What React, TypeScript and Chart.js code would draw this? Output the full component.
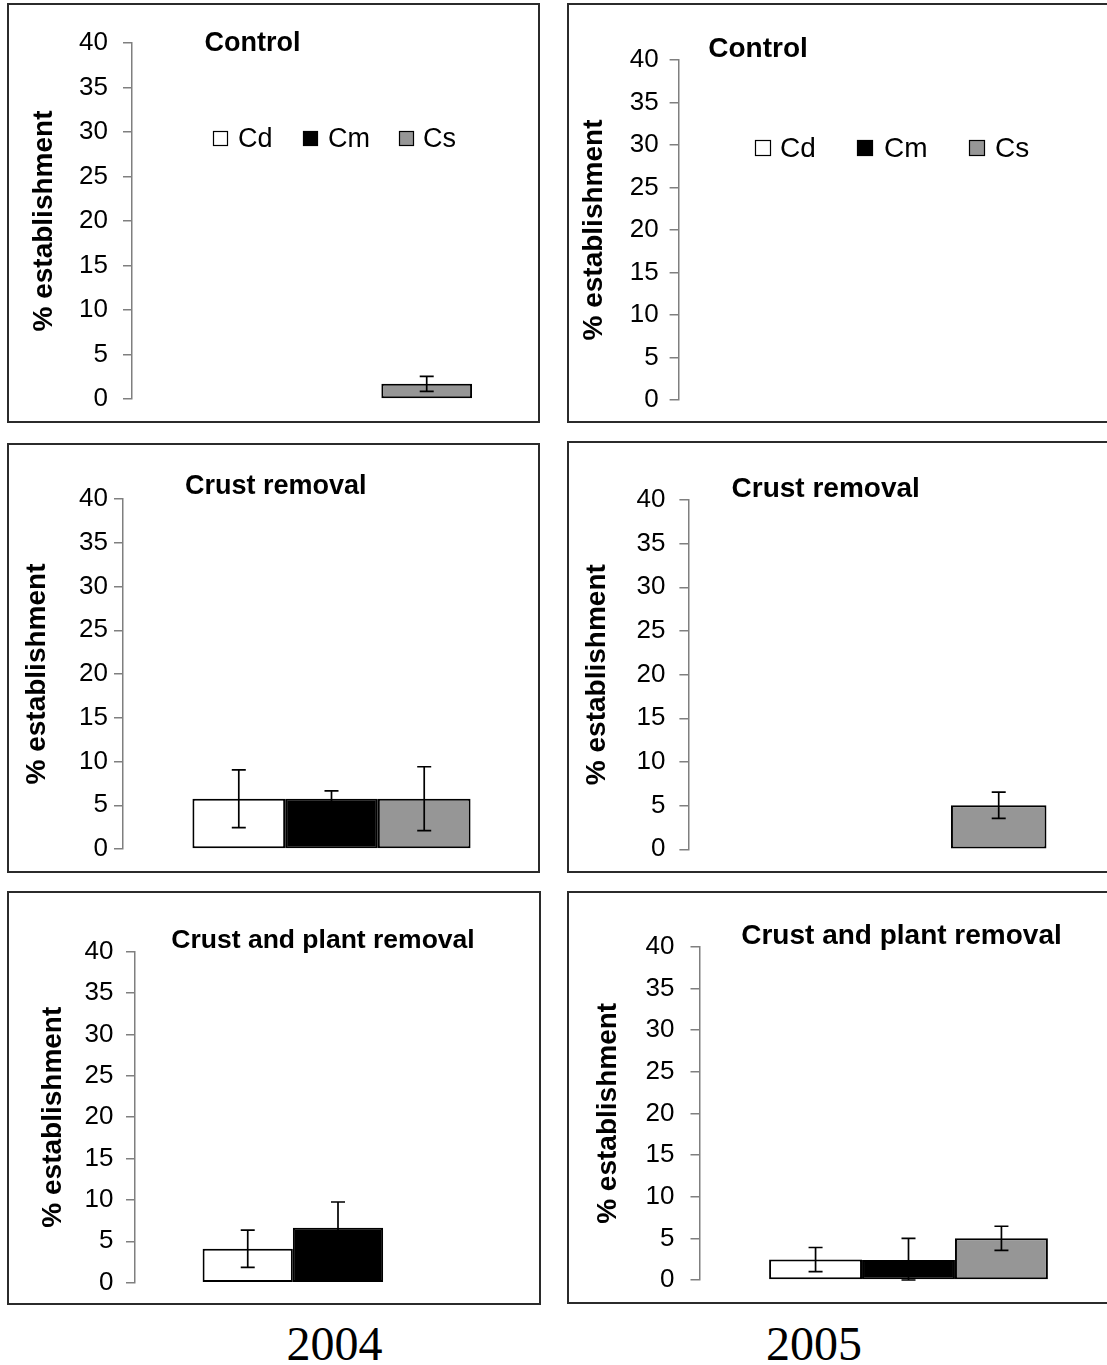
import React, { useEffect, useRef } from 'react';
import { Chart, registerables } from 'chart.js';

Chart.register(...registerables);

// ---------- data ----------
const SERIES = ['Cd', 'Cm', 'Cs'];
const YEARS = ['2004', '2005'];
const TREATMENTS = ['Control', 'Crust removal', 'Crust and plant removal'];
const Y_TITLE = '% establishment';
const Y_MIN = 0;
const Y_MAX = 40;
const Y_STEP = 5;

const CONTROL_2004 = [null, null, 1.7];
const CONTROL_2004_ERR = [0, 0, 0.85];
const CONTROL_2005 = [null, null, null];
const CONTROL_2005_ERR = [0, 0, 0];
const CRUST_2004 = [5.75, 5.75, 5.75];
const CRUST_2004_ERR = [3.3, 0.9, 3.65];
const CRUST_2005 = [null, null, 5.05];
const CRUST_2005_ERR = [0, 0, 1.5];
const PLANT_2004 = [4.1, 6.65, null];
const PLANT_2004_ERR = [2.25, 3.1, 0];
const PLANT_2005 = [2.45, 2.4, 5.0];
const PLANT_2005_ERR = [1.45, 2.6, 1.45];

// ---------- styles / layout ----------
const SERIES_COLORS = ['#ffffff', '#000000', '#969696'];
const SANS = '"Liberation Sans", Arial, Helvetica, sans-serif';
const SERIF = '"Liberation Serif", "Times New Roman", serif';
const AXIS_COLOR = '#7f7f7f';

type Legend = { boxX: number[]; boxY: number; size: number; textX: number[]; baseline: number; font: number };
type PanelLayout = {
  l: number; t: number; w: number; h: number;
  yAxisW: number; top: number; bottom: number; right: number;
  tickPad: number; yTitleC: number;
  titleX: number; titleY: number; titleSize: number;
  legend?: Legend;
};

const PANELS = [
  { title: TREATMENTS[0], values: CONTROL_2004, errors: CONTROL_2004_ERR,
    layout: { l: 7, t: 3, w: 533, h: 420, yAxisW: 125, top: 40, bottom: 396, right: 533, tickPad: 15, yTitleC: 37,
      titleX: 245.5, titleY: 48, titleSize: 27,
      legend: { boxX: [206, 296, 392], boxY: 128, size: 15, textX: [231, 321, 416], baseline: 144, font: 27 } } as PanelLayout },
  { title: TREATMENTS[0], values: CONTROL_2005, errors: CONTROL_2005_ERR,
    layout: { l: 567, t: 3, w: 553, h: 420, yAxisW: 111.6, top: 57, bottom: 397, right: 551, tickPad: 11, yTitleC: 27.5,
      titleX: 191, titleY: 54.3, titleSize: 28,
      legend: { boxX: [188, 290, 402], boxY: 137, size: 16, textX: [213, 317, 428], baseline: 153.5, font: 28 } } as PanelLayout },
  { title: TREATMENTS[1], values: CRUST_2004, errors: CRUST_2004_ERR,
    layout: { l: 7, t: 443, w: 533, h: 430, yAxisW: 116, top: 56, bottom: 406, right: 533, tickPad: 6, yTitleC: 30.5,
      titleX: 268.7, titleY: 51.3, titleSize: 27 } as PanelLayout },
  { title: TREATMENTS[1], values: CRUST_2005, errors: CRUST_2005_ERR,
    layout: { l: 567, t: 441, w: 553, h: 432, yAxisW: 121.4, top: 59, bottom: 408.3, right: 551, tickPad: 14, yTitleC: 30.6,
      titleX: 258.7, titleY: 56.3, titleSize: 28 } as PanelLayout },
  { title: TREATMENTS[2], values: PLANT_2004, errors: PLANT_2004_ERR,
    layout: { l: 7, t: 891, w: 534, h: 414, yAxisW: 128, top: 60.7, bottom: 391.7, right: 534, tickPad: 12.5, yTitleC: 45.9,
      titleX: 316, titleY: 57.3, titleSize: 26.5 } as PanelLayout },
  { title: TREATMENTS[2], values: PLANT_2005, errors: PLANT_2005_ERR,
    layout: { l: 567, t: 891, w: 553, h: 413, yAxisW: 132.5, top: 55.7, bottom: 389, right: 550.5, tickPad: 16, yTitleC: 41.5,
      titleX: 334.5, titleY: 53, titleSize: 28 } as PanelLayout },
];

const YEAR_LABELS = [
  { text: YEARS[0], cx: 334.5, top: 1320 },
  { text: YEARS[1], cx: 814, top: 1320 },
];

function makePlugins(title: string, errors: number[], layout: PanelLayout) {
  const errorBars = {
    id: 'errorBars',
    afterDatasetsDraw(chart: any) {
      const y = chart.scales.y;
      const ctx = chart.ctx;
      ctx.save();
      ctx.strokeStyle = '#000';
      ctx.lineWidth = 1.7;
      chart.data.datasets.forEach((ds: any, i: number) => {
        const meta = chart.getDatasetMeta(i);
        meta.data.forEach((el: any, j: number) => {
          const v = ds.data[j];
          const e = errors[i];
          if (v == null || !e) return;
          const x = el.x;
          const yt = y.getPixelForValue(v + e);
          const yb = y.getPixelForValue(Math.max(0, v - e));
          const cap = 7;
          ctx.beginPath();
          ctx.moveTo(x, yt); ctx.lineTo(x, yb);
          ctx.moveTo(x - cap, yt); ctx.lineTo(x + cap, yt);
          ctx.moveTo(x - cap, yb); ctx.lineTo(x + cap, yb);
          ctx.stroke();
        });
      });
      ctx.restore();
    },
  };
  const panelText = {
    id: 'panelText',
    afterDraw(chart: any) {
      const ctx = chart.ctx;
      const area = chart.chartArea;
      ctx.save();
      ctx.fillStyle = '#000';
      // panel title
      ctx.font = `bold ${layout.titleSize}px ${SANS}`;
      ctx.textAlign = 'center';
      ctx.textBaseline = 'alphabetic';
      ctx.fillText(title, layout.titleX, layout.titleY);
      // y axis title
      ctx.save();
      ctx.translate(layout.yTitleC, (area.top + area.bottom) / 2);
      ctx.rotate(-Math.PI / 2);
      ctx.font = `bold 28px ${SANS}`;
      ctx.textAlign = 'center';
      ctx.textBaseline = 'middle';
      ctx.fillText(Y_TITLE, 0, 0);
      ctx.restore();
      // legend
      const lg = layout.legend;
      if (lg) {
        chart.data.datasets.forEach((ds: any, i: number) => {
          ctx.fillStyle = ds.backgroundColor;
          ctx.fillRect(lg.boxX[i], lg.boxY, lg.size, lg.size);
          ctx.strokeStyle = '#000';
          ctx.lineWidth = 1.2;
          ctx.strokeRect(lg.boxX[i] + 0.5, lg.boxY + 0.5, lg.size - 1, lg.size - 1);
          ctx.fillStyle = '#000';
          ctx.font = `${lg.font}px ${SANS}`;
          ctx.textAlign = 'left';
          ctx.textBaseline = 'alphabetic';
          ctx.fillText(ds.label, lg.textX[i], lg.baseline);
        });
      }
      ctx.restore();
    },
  };
  return [errorBars, panelText];
}

function Panel({ title, values, errors, layout }: { title: string; values: (number | null)[]; errors: number[]; layout: PanelLayout }) {
  const ref = useRef<HTMLCanvasElement | null>(null);
  useEffect(() => {
    if (!ref.current) return;
    const chart = new Chart(ref.current, {
      type: 'bar',
      data: {
        labels: [''],
        datasets: SERIES.map((s, i) => ({
          label: s,
          data: [values[i]],
          backgroundColor: SERIES_COLORS[i],
          borderColor: '#000',
          borderWidth: 2,
          borderSkipped: false,
          categoryPercentage: 0.667,
          barPercentage: 1,
        })),
      },
      options: {
        responsive: false,
        animation: false,
        devicePixelRatio: 1,
        layout: {
          padding: {
            left: 0,
            top: layout.top,
            bottom: layout.h - layout.bottom,
            right: Math.max(0, layout.w - layout.right),
          },
        },
        plugins: {
          legend: { display: false },
          title: { display: false },
          tooltip: { enabled: false },
        },
        scales: {
          x: { display: false, offset: true },
          y: {
            min: Y_MIN,
            max: Y_MAX,
            afterFit: (scale: any) => {
              scale.width = layout.yAxisW;
              scale.paddingTop = 0;
              scale.paddingBottom = 0;
            },
            ticks: {
              stepSize: Y_STEP,
              autoSkip: false,
              color: '#000',
              padding: layout.tickPad,
              font: { family: SANS, size: 26 },
            },
            grid: {
              display: true,
              drawOnChartArea: false,
              drawTicks: true,
              tickLength: 9,
              color: AXIS_COLOR,
              lineWidth: 1.5,
            },
            border: { display: true, color: AXIS_COLOR, width: 1.5 },
            title: { display: false },
          },
        },
      },
      plugins: makePlugins(title, errors, layout),
    } as any);
    return () => chart.destroy();
  }, []);
  return (
    <>
      <div
        style={{
          position: 'absolute', left: layout.l, top: layout.t, width: layout.w, height: layout.h,
          border: '2px solid #2b2b2b', boxSizing: 'border-box',
        }}
      />
      <canvas
        ref={ref}
        width={layout.w}
        height={layout.h}
        style={{ position: 'absolute', left: layout.l, top: layout.t, width: layout.w, height: layout.h, display: 'block' }}
      />
    </>
  );
}

export default function App() {
  return (
    <div style={{ position: 'absolute', left: 0, top: 0, width: 1107, height: 1365, overflow: 'hidden', background: '#fff' }}>
      {PANELS.map((p, i) => (
        <Panel key={i} title={p.title} values={p.values} errors={p.errors} layout={p.layout} />
      ))}
      {YEAR_LABELS.map((y) => (
        <div
          key={y.text}
          style={{
            position: 'absolute', left: y.cx - 100, top: y.top, width: 200, textAlign: 'center',
            fontFamily: SERIF, fontSize: 48, lineHeight: '48px', color: '#000',
          }}
        >
          {y.text}
        </div>
      ))}
    </div>
  );
}
